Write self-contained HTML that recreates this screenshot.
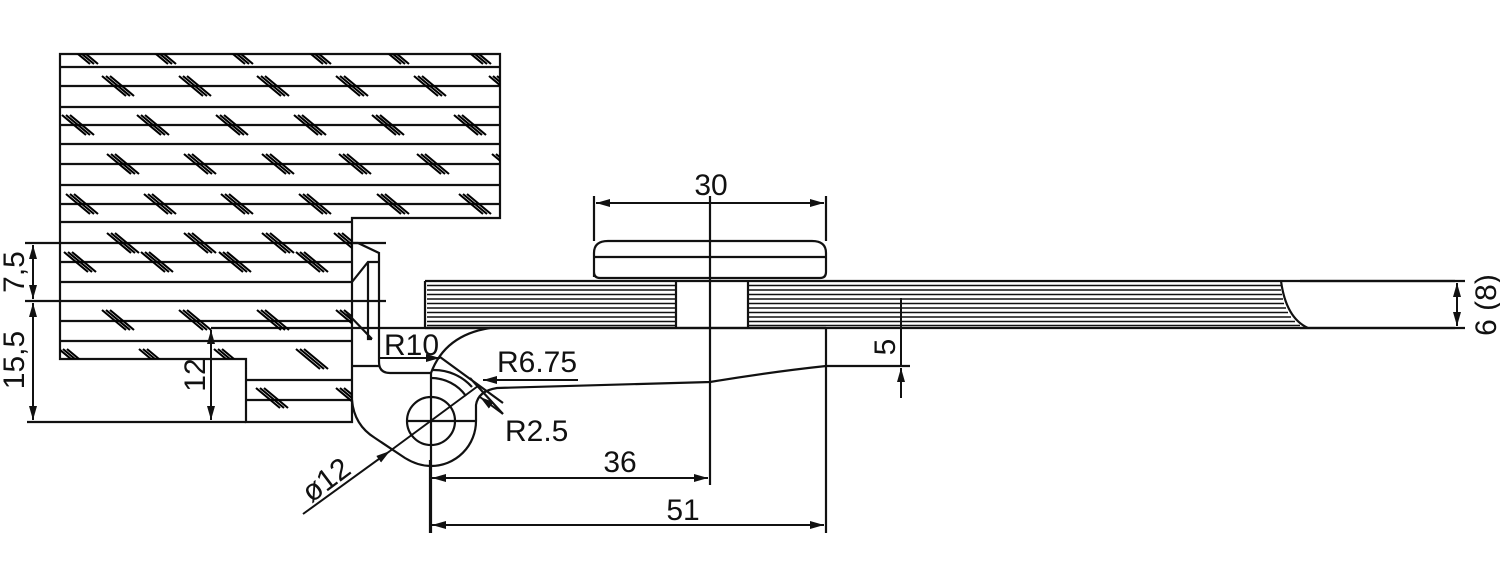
<!DOCTYPE html>
<html><head><meta charset="utf-8"><style>
html,body{margin:0;padding:0;background:#fff;}
svg{display:block;}
text{font-family:"Liberation Sans",Arial,sans-serif;font-size:30px;fill:#111;}
</style></head><body>
<svg width="1500" height="573" viewBox="0 0 1500 573" xmlns="http://www.w3.org/2000/svg">
<defs>
<clipPath id="wood"><path d="M60,54 H500 V218 H352 V422 H246 V359 H60 Z"/></clipPath>
<g id="m" stroke="#000" stroke-width="2.1"><line x1="-16" y1="-10" x2="8" y2="10"/><line x1="-12" y1="-10" x2="12" y2="10"/><line x1="-8" y1="-10" x2="16" y2="10"/></g>
<marker id="a" viewBox="0 0 14 8" refX="14" refY="4" markerWidth="14" markerHeight="8" orient="auto" markerUnits="userSpaceOnUse"><path d="M0,0 L14,4 L0,8 Z" fill="#111"/></marker>
</defs>
<g fill="none" stroke="#111" stroke-width="2.2">
<path d="M60,54 H500 V218 H352 V422 H246 V359 H60 Z"/>
<path d="M60,67H500 M60,86H500 M60,107H500 M60,125H500 M60,144H500 M60,164H500 M60,185H500 M60,204H500 M60,222H352 M60,262H352 M60,282H352 M60,321H352 M60,341H352 M246,380H352 M246,400H352"/>
<path d="M25,243H386 M25,301H386 M27,422H246 M211,328H490"/>
</g>
<g clip-path="url(#wood)">
<use href="#m" x="82" y="54"/><use href="#m" x="160" y="54"/><use href="#m" x="237" y="54"/><use href="#m" x="315" y="54"/><use href="#m" x="393" y="54"/><use href="#m" x="475" y="54"/>
<use href="#m" x="118" y="86"/><use href="#m" x="195" y="86"/><use href="#m" x="273" y="86"/><use href="#m" x="352" y="86"/><use href="#m" x="430" y="86"/><use href="#m" x="505" y="86"/>
<use href="#m" x="78" y="125"/><use href="#m" x="153" y="125"/><use href="#m" x="232" y="125"/><use href="#m" x="310" y="125"/><use href="#m" x="388" y="125"/><use href="#m" x="470" y="125"/>
<use href="#m" x="123" y="164"/><use href="#m" x="200" y="164"/><use href="#m" x="278" y="164"/><use href="#m" x="355" y="164"/><use href="#m" x="433" y="164"/><use href="#m" x="508" y="164"/>
<use href="#m" x="82" y="204"/><use href="#m" x="160" y="204"/><use href="#m" x="237" y="204"/><use href="#m" x="315" y="204"/><use href="#m" x="393" y="204"/><use href="#m" x="475" y="204"/>
<use href="#m" x="123" y="243"/><use href="#m" x="200" y="243"/><use href="#m" x="278" y="243"/><use href="#m" x="350" y="243"/>
<use href="#m" x="80" y="262"/><use href="#m" x="157" y="262"/><use href="#m" x="235" y="262"/><use href="#m" x="312" y="262"/>
<use href="#m" x="118" y="320"/><use href="#m" x="195" y="320"/><use href="#m" x="273" y="320"/><use href="#m" x="352" y="320"/>
<use href="#m" x="75" y="359"/><use href="#m" x="155" y="359"/><use href="#m" x="230" y="359"/><use href="#m" x="312" y="359"/>
<use href="#m" x="272" y="398"/><use href="#m" x="352" y="398"/>
</g>
<g fill="none" stroke="#111" stroke-width="2.2">
<path d="M352,243 H358 L379,253 V362 Q379,373 390,373 H431"/>
<path d="M352,282 L368,262 H378 M368,262 V339 H372 M347,313 L372,339 M352,366 H379"/>
<path d="M352,400 Q354,425 375,438 L405,458 Q418,466 431,466 A45,45 0 0 0 476,421 L476,405 Q478,391 497,388 Q600,385 710,382 Q770,372 826,366 H910"/>
<circle cx="431" cy="421" r="24"/>
<path d="M407,421 H476 M431,373 V533"/>
<path d="M431,373 Q445,335 490,328 H826"/>
<path d="M431,378 A43,43 0 0 1 466,396 M433,370 A51,51 0 0 1 472,387"/>
<path d="M440,357 L503,403 M470,378 L503,414"/>
<path d="M425,281 H1455 M425,328 H1455 M425,281 V328 M1281,281 Q1286,318 1308,328"/>
</g>
<g stroke="#111" stroke-width="1.6" fill="none">
<path d="M427,285.5H676 M427,290H676 M427,294.5H676 M427,299H676 M427,303.5H676 M427,308H676 M427,312.5H676 M427,317H676 M427,321.5H676 M427,325.5H676"/>
<path d="M748,285.5H1281 M748,290H1281 M748,294.5H1282 M748,299H1283 M748,303.5H1284 M748,308H1286 M748,312.5H1288 M748,317H1291 M748,321.5H1295 M748,325.5H1300"/>
</g>
<g fill="none" stroke="#111" stroke-width="2.2">
<path d="M676,281 V328 M748,281 V328"/>
<path d="M594,277 V253 Q594,241 608,241 H812 Q826,241 826,253 V272 Q826,278 820,278 H600 Q594,278 594,272"/>
<path d="M594,257 H826"/>
<path d="M594,196 V241 M826,196 V241 M710,196 V485 M826,328 V533 M430,460 V533"/>
<path d="M1300,281 H1465 M1300,328 H1465"/>
</g>
<g stroke="#111" stroke-width="2" fill="none">
<line x1="710" y1="203" x2="596" y2="203" marker-end="url(#a)"/>
<line x1="710" y1="203" x2="824" y2="203" marker-end="url(#a)"/>
<line x1="570" y1="478" x2="432" y2="478" marker-end="url(#a)"/>
<line x1="570" y1="478" x2="708" y2="478" marker-end="url(#a)"/>
<line x1="620" y1="525" x2="432" y2="525" marker-end="url(#a)"/>
<line x1="620" y1="525" x2="824" y2="525" marker-end="url(#a)"/>
<line x1="33" y1="272" x2="33" y2="245" marker-end="url(#a)"/>
<line x1="33" y1="272" x2="33" y2="299" marker-end="url(#a)"/>
<line x1="33" y1="360" x2="33" y2="303" marker-end="url(#a)"/>
<line x1="33" y1="360" x2="33" y2="420" marker-end="url(#a)"/>
<line x1="211" y1="375" x2="211" y2="330" marker-end="url(#a)"/>
<line x1="211" y1="375" x2="211" y2="420" marker-end="url(#a)"/>
<line x1="1457" y1="304" x2="1457" y2="283" marker-end="url(#a)"/>
<line x1="1457" y1="304" x2="1457" y2="326" marker-end="url(#a)"/>
<line x1="901" y1="298" x2="901" y2="366"/>
<line x1="901" y1="398" x2="901" y2="368" marker-end="url(#a)"/>
<line x1="380" y1="358" x2="440" y2="358" marker-end="url(#a)"/>
<line x1="578" y1="380" x2="483" y2="380" marker-end="url(#a)"/>
<line x1="503" y1="414" x2="480" y2="397" marker-end="url(#a)"/>
<line x1="303" y1="514" x2="390" y2="451" marker-end="url(#a)"/>
<line x1="390" y1="451" x2="478" y2="386"/>
</g>
<text x="711" y="195" text-anchor="middle">30</text>
<text x="620" y="472" text-anchor="middle">36</text>
<text x="683" y="520" text-anchor="middle">51</text>
<text x="384" y="355">R10</text>
<text x="497" y="372">R6.75</text>
<text x="505" y="441">R2.5</text>
<text transform="translate(24,272) rotate(-90)" text-anchor="middle">7,5</text>
<text transform="translate(24,360) rotate(-90)" text-anchor="middle">15,5</text>
<text transform="translate(205,375) rotate(-90)" text-anchor="middle">12</text>
<text transform="translate(895,347) rotate(-90)" text-anchor="middle">5</text>
<text transform="translate(1496,305) rotate(-90)" text-anchor="middle">6 (8)</text>
<text transform="translate(332,488) rotate(-37)" text-anchor="middle">ø12</text>
</svg>
</body></html>
